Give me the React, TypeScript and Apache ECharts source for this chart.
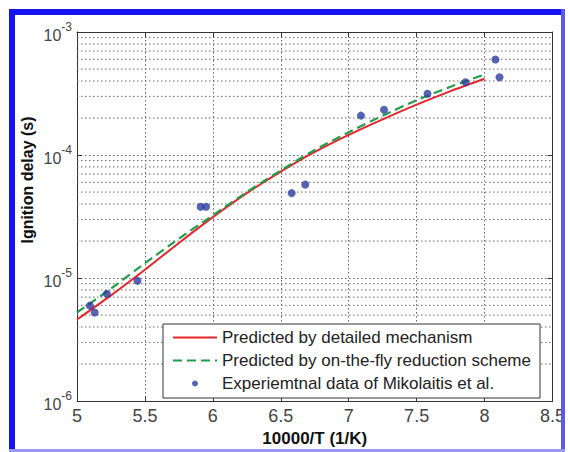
import React, { useEffect, useRef } from 'react';
import * as echarts from 'echarts';

// x = 10000/T (1/K), y = ignition delay (s)
const detailedX = [5.0, 5.25, 5.5, 5.75, 6.0, 6.25, 6.5, 6.75, 7.0, 7.25, 7.5, 7.75, 8.0];
const detailedY = [4.6e-6, 7.24e-6, 1.17e-5, 1.93e-5, 3.13e-5, 4.9e-5, 7.33e-5, 1.06e-4, 1.46e-4, 1.95e-4, 2.57e-4, 3.31e-4, 4.17e-4];

const reducedX = [5.0, 5.25, 5.5, 5.75, 6.0, 6.25, 6.5, 6.75, 7.0, 7.25, 7.5, 7.75, 8.0];
const reducedY = [5.25e-6, 8.2e-6, 1.32e-5, 2.09e-5, 3.24e-5, 5.0e-5, 7.5e-5, 1.1e-4, 1.53e-4, 2.09e-4, 2.79e-4, 3.59e-4, 4.52e-4];

const expX = [5.095, 5.13, 5.22, 5.445, 5.91, 5.95, 6.58, 6.68, 7.09, 7.26, 7.58, 7.86, 8.08, 8.11];
const expY = [5.97e-6, 5.25e-6, 7.45e-6, 9.5e-6, 3.8e-5, 3.8e-5, 4.9e-5, 5.75e-5, 2.09e-4, 2.33e-4, 3.15e-4, 3.9e-4, 5.97e-4, 4.29e-4];

const seriesNames = [
  'Predicted by detailed mechanism',
  'Predicted by on-the-fly reduction scheme',
  'Experiemtnal data of Mikolaitis et al.',
];

const xMin = 5;
const xMax = 8.5;
const xStep = 0.5;
const yMin = 1e-6;
const yMax = 1e-3;
const minorMantissas = [2, 3, 4, 5, 6, 7, 8, 9];
const decades = [1e-6, 1e-5, 1e-4];

const xName = '10000/T (1/K)';
const yName = 'Ignition delay (s)';

const FONT = '"Liberation Sans", Arial, Helvetica, sans-serif';

export default function App() {
  const ref = useRef<HTMLDivElement>(null);

  useEffect(() => {
    if (!ref.current) return;
    const chart = echarts.init(ref.current, null, { renderer: 'svg' });

    const zip = (xs: number[], ys: number[]) => xs.map((x, i) => [x, ys[i]]);
    const minorValues: number[] = [];
    decades.forEach((d) => minorMantissas.forEach((m) => minorValues.push(m * d)));

    const gridDots = { type: [1.5, 2.5] as any, color: '#666', width: 1 };

    const minorSeries = minorValues.map((v, i) => ({
      name: `__minor${i}`,
      type: 'line',
      data: [[xMin, v], [xMax, v]],
      symbol: 'none',
      silent: true,
      z: 1,
      lineStyle: gridDots,
      itemStyle: { color: '#666' },
    }));

    chart.setOption({
      animation: false,
      backgroundColor: '#fff',
      grid: { left: 77, right: 13, top: 32, bottom: 45, containLabel: false },
      xAxis: [
        {
          type: 'value',
          min: xMin,
          max: xMax,
          interval: xStep,
          position: 'bottom',
          axisLine: { show: true, lineStyle: { color: '#333', width: 1 } },
          axisTick: { show: true, inside: true, length: 5, lineStyle: { color: '#333' } },
          axisLabel: { color: '#444', fontSize: 18, margin: 6, fontFamily: FONT },
          splitLine: { show: true, lineStyle: gridDots },
          name: xName,
          nameLocation: 'middle',
          nameGap: 27,
          nameTextStyle: { fontWeight: 'bold', fontSize: 17, color: '#111', fontFamily: FONT },
        },
        {
          type: 'value',
          min: xMin,
          max: xMax,
          interval: xStep,
          position: 'top',
          axisLine: { show: true, lineStyle: { color: '#333', width: 1 } },
          axisTick: { show: true, inside: true, length: 5, lineStyle: { color: '#333' } },
          axisLabel: { show: false },
          splitLine: { show: false },
        },
      ],
      yAxis: [
        {
          type: 'log',
          logBase: 10,
          min: yMin,
          max: yMax,
          position: 'left',
          axisLine: { show: true, lineStyle: { color: '#333', width: 1 } },
          axisTick: { show: true, inside: true, length: 5, lineStyle: { color: '#333' } },
          axisLabel: {
            margin: 5,
            formatter: (v: number) => `{a|10}{b|${Math.round(Math.log10(v))}}`,
            rich: {
              a: { fontSize: 16, color: '#444', fontFamily: FONT, lineHeight: 22, verticalAlign: 'bottom' },
              b: { fontSize: 12, color: '#444', fontFamily: FONT, lineHeight: 22, verticalAlign: 'top' },
            },
          },
          splitLine: { show: true, lineStyle: gridDots },
        },
        {
          type: 'log',
          logBase: 10,
          min: yMin,
          max: yMax,
          position: 'right',
          axisLine: { show: true, lineStyle: { color: '#333', width: 1 } },
          axisTick: { show: true, inside: true, length: 5, lineStyle: { color: '#333' } },
          axisLabel: { show: false },
          splitLine: { show: false },
        },
      ],
      legend: {
        orient: 'vertical',
        left: 172,
        top: 329,
        padding: 0,
        itemWidth: 44,
        itemHeight: 6,
        itemGap: 6,
        itemTextGap: 4,
        selectedMode: false,
        textStyle: { fontSize: 17, color: '#222', fontFamily: FONT },
        data: [
          { name: seriesNames[0], itemStyle: { opacity: 0 } },
          { name: seriesNames[1], itemStyle: { opacity: 0 } },
          { name: seriesNames[2], icon: 'circle' },
        ],
      },
      graphic: [
        { type: 'rect', z: 3, shape: { x: 163, y: 324, width: 377, height: 74 }, style: { fill: '#fff', stroke: '#333', lineWidth: 1 } },
        { type: 'rect', z: 10, shape: { x: 9, y: 9, width: 556, height: 6 }, style: { fill: '#1414f0' } },
        { type: 'rect', z: 10, shape: { x: 9, y: 9, width: 6, height: 443 }, style: { fill: '#1414f0' } },
        { type: 'rect', z: 10, shape: { x: 561, y: 9, width: 4, height: 443 }, style: { fill: '#5a5af2' } },
        { type: 'rect', z: 10, shape: { x: 9, y: 449, width: 556, height: 3 }, style: { fill: '#9a9af5' } },
        {
          type: 'text',
          x: 27,
          y: 180,
          rotation: Math.PI / 2,
          style: {
            text: yName,
            font: `bold 16px ${FONT}`,
            fill: '#111',
            textAlign: 'center',
            textVerticalAlign: 'middle',
          },
        },
      ],
      series: [
        ...minorSeries,
        {
          name: seriesNames[0],
          type: 'line',
          data: zip(detailedX, detailedY),
          symbol: 'none',
          smooth: 0.2,
          z: 3,
          lineStyle: { color: '#e8252b', width: 2 },
          itemStyle: { color: '#e8252b' },
        },
        {
          name: seriesNames[1],
          type: 'line',
          data: zip(reducedX, reducedY),
          symbol: 'none',
          smooth: 0.2,
          z: 3,
          lineStyle: { color: '#1f9e4c', width: 2.2, type: [9, 5] },
          itemStyle: { color: '#1f9e4c' },
        },
        {
          name: seriesNames[2],
          type: 'scatter',
          data: zip(expX, expY),
          symbol: 'circle',
          symbolSize: 8,
          z: 4,
          itemStyle: { color: '#2b3c9c' },
        },
      ],
    });

    return () => chart.dispose();
  }, []);

  return (
    <div
      ref={ref}
      style={{ position: 'fixed', left: 0, top: 0, width: 568, height: 452, background: '#fff' }}
    />
  );
}
